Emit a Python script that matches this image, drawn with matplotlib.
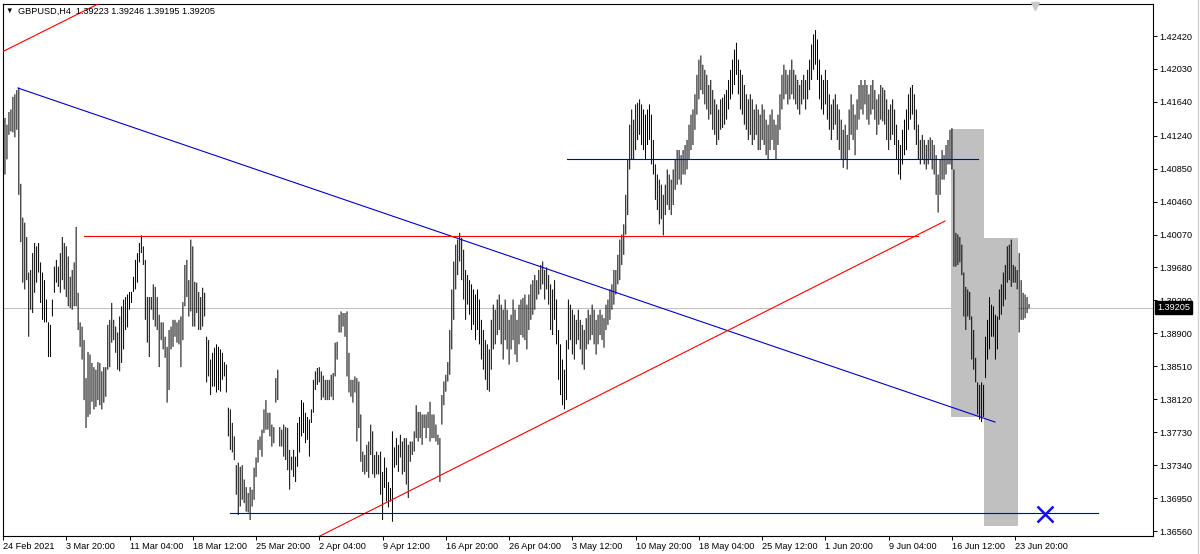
import matplotlib
matplotlib.use("Agg")
import matplotlib.pyplot as plt
from matplotlib.patches import Rectangle
import matplotlib.transforms as mtransforms
import numpy as np

plt.rcParams['font.family'] = ['Liberation Sans', 'DejaVu Sans']

# GBPUSD H4 bars, high / low in pips above 1.3600
high_pips = [
    564, 545, 537, 552, 555, 570, 573, 578, 581, 467,
    427, 421, 404, 362, 365, 385, 397, 393, 397, 374,
    362, 353, 330, 303, 300, 330, 369, 377, 369, 385,
    404, 397, 393, 381, 357, 365, 374, 416, 338, 303,
    298, 282, 237, 268, 265, 255, 250, 247, 256, 255,
    245, 250, 250, 300, 306, 326, 306, 298, 291, 310,
    322, 330,
    333, 336, 339, 339, 357, 377, 385, 397, 406,
    393, 377, 333, 333, 333, 348, 345, 333, 312, 303,
    303, 286, 274, 294, 298, 306, 306, 303, 306, 310,
    327, 371, 377, 353, 401, 393, 351, 350, 339, 333,
    344, 338, 286, 282, 259, 267, 273, 277, 274, 271,
    267, 256, 253, 202, 200, 184, 168, 134, 137, 132,
    134, 117, 108, 101, 108, 105, 131, 143, 164, 168,
    176, 200, 211, 196, 196, 182, 179, 237, 247, 179,
    176, 182, 179, 178, 152, 144, 152, 144, 184, 191,
    211, 208, 196, 191, 188, 200, 235, 245, 249, 250,
    245, 240,
    235, 235, 235, 241, 243, 279, 280, 312, 316,
    314, 314, 316, 267, 235, 235, 239, 237, 233, 194,
    150, 146, 158, 162, 182, 174, 146, 150, 146, 150,
    126, 143, 131, 114, 107, 174, 155, 166, 158, 170,
    162, 166, 166, 158, 162, 162, 174, 205, 197, 197,
    194, 194, 194, 197, 209, 194, 194, 182, 170, 166,
    217, 233, 241, 256, 294, 342, 375, 395, 401, 409,
    403, 389, 365, 359, 353, 348, 342, 336, 342, 330,
    306, 294, 282, 277, 271, 306, 324, 318, 330, 336,
    324, 318, 330, 318, 306, 312, 330, 318, 306, 324,
    330, 332,
    336, 324, 336, 348, 353, 359, 353, 365, 371,
    375, 365, 368, 359, 348, 342, 353, 330, 294, 277,
    259, 247, 282, 330, 324, 318, 312, 306, 318, 306,
    300, 294, 308, 318, 312, 324, 318, 306, 312, 318,
    312, 308, 324, 330, 342, 348, 365, 365, 383, 401,
    407, 419, 454, 496, 537, 555, 543, 561, 563, 567,
    561, 555, 549, 555, 561, 549, 519, 490, 478, 472,
    466, 454, 466, 484, 478, 472, 484, 496, 507, 507,
    501, 507, 513, 519, 537, 549, 555, 573, 596, 614,
    619, 608, 602, 596, 584, 590, 578, 567, 561, 555,
    567, 569,
    573, 578, 590, 602, 614, 626, 634, 614, 602,
    596, 584, 573, 567, 573, 567, 555, 561, 555, 549,
    561, 555, 543, 537, 549, 555, 543, 537, 549, 573,
    596, 608, 602, 596, 602, 614, 602, 596, 590, 584,
    590, 596, 590, 602, 614, 632, 644, 649, 638, 614,
    596, 590, 602, 590, 573, 561, 567, 573, 561, 555,
    543, 531, 537, 525, 555, 573, 561, 549, 567, 584,
    590, 584, 590, 584, 573, 584, 590, 578, 567, 573,
    584, 581,
    578, 567, 555, 561, 567, 555, 537, 519, 513,
    531, 543, 555, 573, 581, 584, 573, 555, 537, 519,
    525, 519, 513, 519, 522, 519, 513, 501, 478, 496,
    507, 501, 513, 519, 531, 533, 484, 409, 407, 404,
    395, 362, 345, 342, 339, 310, 294, 261, 232, 229,
    232, 229, 286, 306, 333, 324, 322, 312, 310, 342,
    348, 362, 371, 393, 395, 401, 371, 369, 365, 385,
    353, 338, 336, 333, 324.6,
]
low_pips = [
    492, 478, 496, 525, 529, 528, 522, 531, 454, 398,
    350, 342, 353, 286, 318, 314, 338, 350, 362, 326,
    306, 303, 303, 262, 262, 310, 338, 350, 345, 338,
    353, 342, 333, 322, 320, 318, 322, 322, 294, 274,
    259, 211, 178, 191, 194, 209, 200, 203, 211, 205,
    200, 208, 215, 247, 250, 279, 282, 267, 247, 245,
    255, 271,
    294, 297, 318, 326, 339, 342, 350, 374, 385,
    371, 306, 279, 262, 318, 306, 298, 294, 250, 282,
    271, 261, 208, 223, 271, 274, 286, 279, 277, 250,
    282, 322, 333, 310, 316, 298, 298, 314, 294, 294,
    298, 310, 232, 239, 217, 227, 227, 220, 223, 221,
    235, 239, 220, 168, 152, 149, 140, 99, 75, 85,
    93, 89, 79, 78, 69, 85, 93, 120, 137, 152,
    144, 172, 176, 176, 168, 156, 160, 208, 211, 156,
    156, 144, 140, 128, 105, 128, 120, 114, 132, 149,
    168, 172, 160, 164, 144, 184, 196, 223, 229, 232,
    211, 214,
    211, 211, 211, 215, 211, 239, 259, 291, 291,
    298, 286, 239, 220, 215, 208, 220, 162, 178, 138,
    126, 123, 126, 119, 146, 123, 119, 123, 123, 99,
    69, 107, 91, 84, 91, 67, 131, 134, 126, 143,
    123, 126, 111, 95, 138, 146, 150, 166, 162, 166,
    158, 178, 166, 178, 162, 166, 166, 162, 158, 114,
    182, 205, 221, 233, 241, 271, 306, 342, 359, 375,
    353, 330, 306, 324, 312, 294, 300, 282, 294, 277,
    259, 247, 235, 223, 221, 247, 271, 277, 288, 294,
    277, 259, 282, 271, 253, 271, 282, 265, 256, 277,
    288, 285,
    282, 271, 294, 306, 312, 318, 330, 336, 342,
    348, 330, 342, 324, 294, 288, 306, 277, 235, 217,
    205, 200, 211, 271, 282, 265, 259, 277, 282, 271,
    253, 247, 271, 277, 282, 288, 277, 265, 277, 288,
    282, 273, 294, 300, 306, 318, 324, 336, 348, 353,
    371, 383, 407, 430, 484, 496, 496, 507, 519, 525,
    513, 507, 496, 513, 519, 490, 478, 448, 436, 419,
    425, 406, 430, 442, 436, 430, 442, 460, 466, 472,
    466, 478, 478, 484, 496, 507, 513, 531, 549, 567,
    578, 573, 561, 555, 543, 549, 531, 525, 513, 519,
    531, 533,
    537, 543, 555, 567, 573, 584, 596, 573, 555,
    549, 537, 531, 519, 525, 513, 519, 525, 507, 507,
    519, 513, 501, 496, 507, 519, 507, 496, 513, 531,
    555, 567, 573, 561, 567, 573, 567, 561, 555, 549,
    561, 567, 555, 567, 578, 590, 602, 608, 590, 567,
    555, 549, 561, 543, 531, 519, 531, 537, 519, 507,
    496, 486, 496, 484, 507, 525, 519, 501, 531, 543,
    555, 549, 561, 543, 537, 549, 555, 543, 525, 537,
    543, 541,
    537, 519, 507, 519, 525, 513, 496, 478, 472,
    490, 501, 507, 531, 543, 549, 531, 513, 496, 490,
    496, 490, 484, 490, 496, 484, 478, 454, 433, 454,
    472, 472, 478, 490, 490, 484, 369, 369, 371, 374,
    359, 310, 294, 310, 306, 259, 247, 232, 194, 188,
    185, 191, 237, 259, 271, 286, 286, 259, 271, 306,
    312, 322, 330, 350, 353, 345, 350, 350, 342, 291,
    306, 306, 308, 314, 319.5,
]

highs = 1.36 + np.array(high_pips) / 10000
lows = 1.36 + np.array(low_pips) / 10000
bars = np.arange(len(highs))

date_labels = ["24 Feb 2021", "3 Mar 20:00", "11 Mar 04:00", "18 Mar 12:00",
               "25 Mar 20:00", "2 Apr 04:00", "9 Apr 12:00", "16 Apr 20:00",
               "26 Apr 04:00", "3 May 12:00", "10 May 20:00", "18 May 04:00",
               "25 May 12:00", "1 Jun 20:00", "9 Jun 04:00", "16 Jun 12:00",
               "23 Jun 20:00"]
bars_per_label = 32

price_ticks = [1.42420, 1.42030, 1.41640, 1.41240, 1.40850, 1.40460, 1.40070,
               1.39680, 1.39290, 1.38900, 1.38510, 1.38120, 1.37730, 1.37340,
               1.36950, 1.36560]

symbol = "GBPUSD,H4"
last_ohlc = [1.39223, 1.39246, 1.39195, 1.39205]
bid = 1.39205

# chart objects as (bar, price) anchors
red_ray = [(-0.5, 1.42231), (60, 1.42939)]
blue_trend = [(7.6, 1.41804), (501.8, 1.37850)]
red_level = [(41.0, 1.40052), (462.8, 1.40052)]
red_trend = [(158.3, 1.36477), (476.5, 1.40230)]
blue_level_top = [(285.3, 1.40964), (493.2, 1.40964)]
blue_level_low = [(114.8, 1.36773), (553.9, 1.36773)]
boxes = [(479.5, 496.3, 1.37910, 1.41319), (496.3, 513.3, 1.36619, 1.40029)]
cross = (527.0, 1.36761)

fig = plt.figure(figsize=(12, 5.54), dpi=100)
ax = fig.add_axes([2.5 / 1200, 1 - 535.5 / 554, 1150.5 / 1200, 532 / 554])
ax.set_xlim(-0.253, 581.7)
ax.set_ylim(1.36507, 1.42805)

for x0, x1, p0, p1 in boxes:
    ax.add_patch(Rectangle((x0, p0), x1 - x0, p1 - p0, facecolor='#c0c0c0',
                           edgecolor='none', zorder=1))

ax.axhline(bid, color='#c0c0c0', lw=0.75, zorder=1.5)

vl = ax.vlines(bars, lows, highs, colors='black', lw=0.72, zorder=2)
vl.set_snap(False)

for line, col in [(red_ray, '#ff0000'), (blue_trend, '#0000cd'),
                  (red_level, '#ff0000'), (red_trend, '#ff0000'),
                  (blue_level_top, '#0000cd'), (blue_level_low, '#0000cd')]:
    xs, ys = zip(*line)
    ax.plot(xs, ys, color=col, lw=0.8, zorder=3)

ax.plot(*cross, marker='x', color='#1010f0', ms=11, mew=1.8, zorder=4)

# axes styling
for s in ax.spines.values():
    s.set_color('black')
    s.set_linewidth(0.8)
ax.set_xticks([i * bars_per_label for i in range(len(date_labels))])
ax.set_xticklabels(date_labels, ha='left', fontsize=6.6)
ax.yaxis.tick_right()
ax.set_yticks(price_ticks)
ax.set_yticklabels([f"{p:.5f}" for p in price_ticks], fontsize=6.6)
ax.tick_params(axis='x', length=3, width=0.7, pad=2)
ax.tick_params(axis='y', length=3, width=0.7, pad=1.5)

trans = mtransforms.blended_transform_factory(ax.transAxes, ax.transData)
ax.text(1.0035, bid, f"{bid:.5f}", transform=trans, color='white', fontsize=6.6,
        va='center', ha='left', zorder=6,
        bbox=dict(facecolor='black', edgecolor='black', pad=1.2))

trans2 = mtransforms.blended_transform_factory(ax.transData, ax.transAxes)
ax.plot([522], [0.995], marker='v', color='#c8c8c8', ms=6, transform=trans2,
        clip_on=False, zorder=5)

# header
fig.text(5 / 1200, 1 - 11 / 554, "\u25bc", fontsize=5.5, va='center', ha='left')
fig.text(18 / 1200, 1 - 11 / 554,
         symbol + "  " + " ".join(f"{v:.5f}" for v in last_ohlc),
         fontsize=6.6, va='center', ha='left')

fig.add_artist(plt.Line2D([1197.5 / 1200, 1197.5 / 1200], [0, 1],
                          color='#d4d4d4', lw=1, transform=fig.transFigure))

fig.savefig("out.png", dpi=100, facecolor='white')
